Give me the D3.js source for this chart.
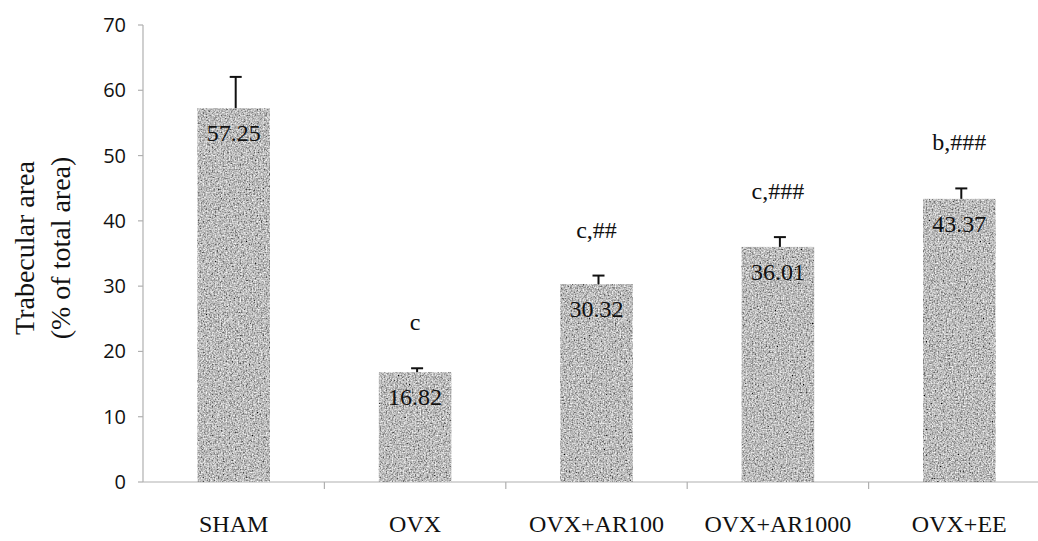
<!DOCTYPE html>
<html>
<head>
<meta charset="utf-8">
<script src="https://cdn.jsdelivr.net/npm/d3@7"></script>
<style>
  html, body { margin: 0; padding: 0; background: #fff; }
  svg { display: block; }
  .serif { font-family: "Liberation Serif", "Times New Roman", serif; fill: #111; }
  .ytick { font-family: "Open Sans", "Noto Sans", sans-serif; font-size: 20px; fill: #111; }
</style>
</head>
<body>
<svg id="chart" width="1038" height="541"></svg>
<script>
// data
const groups = ['SHAM', 'OVX', 'OVX+AR100', 'OVX+AR1000', 'OVX+EE'];
const means = [57.25, 16.82, 30.32, 36.01, 43.37];
const errors = [4.8, 0.6, 1.3, 1.5, 1.6];
const marks = ['', 'c', 'c,##', 'c,###', 'b,###'];
const yTicks = [0, 10, 20, 30, 40, 50, 60, 70];

const svg = d3.select('#chart');
const W = 1038, H = 541;

const x = d3.scaleBand().domain(groups).range([143, 1050]).paddingInner(0.6).paddingOuter(0.3);
const y = d3.scaleLinear().domain([0, 70]).range([482, 25]);

// grainy print texture for the bars
const defs = svg.append('defs');
const f = defs.append('filter').attr('id', 'grain')
  .attr('x', 0).attr('y', 0).attr('width', '100%').attr('height', '100%');
f.append('feTurbulence').attr('type', 'fractalNoise').attr('baseFrequency', 0.65)
  .attr('numOctaves', 2).attr('seed', 7).attr('result', 'noise');
f.append('feColorMatrix').attr('in', 'noise').attr('type', 'saturate').attr('values', 0).attr('result', 'gray');
const ct = f.append('feComponentTransfer').attr('in', 'gray').attr('result', 'tone');
['R', 'G', 'B'].forEach(c => ct.append('feFunc' + c).attr('type', 'linear').attr('slope', 1.8).attr('intercept', -0.4));
ct.append('feFuncA').attr('type', 'linear').attr('slope', 0).attr('intercept', 1);
f.append('feComposite').attr('in', 'tone').attr('in2', 'SourceGraphic').attr('operator', 'in');

// y axis
const yAxis = svg.append('g');
yAxis.append('line')
  .attr('x1', 143).attr('x2', 143).attr('y1', y(70)).attr('y2', y(0))
  .attr('stroke', '#b0b0b0').attr('stroke-width', 1.2);
yAxis.selectAll('line.tick').data(yTicks).join('line')
  .attr('class', 'tick')
  .attr('x1', 138).attr('x2', 143)
  .attr('y1', d => y(d)).attr('y2', d => y(d))
  .attr('stroke', '#b0b0b0').attr('stroke-width', 1.2);
yAxis.selectAll('text').data(yTicks).join('text')
  .attr('class', 'ytick')
  .attr('x', 126).attr('y', d => y(d)).attr('dy', '0.35em')
  .attr('text-anchor', 'end')
  .text(d => d);

// x axis, ticks sit between the groups
const step = x.step();
const gap = step - x.bandwidth();
svg.append('line')
  .attr('x1', 143).attr('x2', W).attr('y1', y(0)).attr('y2', y(0))
  .attr('stroke', '#b0b0b0').attr('stroke-width', 1.2);
svg.selectAll('line.xtick').data(groups.slice(1)).join('line')
  .attr('class', 'xtick')
  .attr('x1', d => x(d) - gap / 2).attr('x2', d => x(d) - gap / 2)
  .attr('y1', y(0)).attr('y2', y(0) + 7)
  .attr('stroke', '#b0b0b0').attr('stroke-width', 1.2);

// bars
svg.selectAll('rect.bar').data(groups).join('rect')
  .attr('class', 'bar')
  .attr('x', d => x(d))
  .attr('y', (d, i) => y(means[i]))
  .attr('width', x.bandwidth())
  .attr('height', (d, i) => y(0) - y(means[i]))
  .attr('fill', '#808080')
  .attr('filter', 'url(#grain)');

// error bars (upper only)
const eb = svg.append('g').attr('stroke', '#111').attr('stroke-width', 2);
groups.forEach((g, i) => {
  const cx = x(g) + x.bandwidth() / 2 + 2;
  eb.append('line').attr('x1', cx).attr('x2', cx)
    .attr('y1', y(means[i])).attr('y2', y(means[i] + errors[i]));
  eb.append('line').attr('x1', cx - 6).attr('x2', cx + 6)
    .attr('y1', y(means[i] + errors[i])).attr('y2', y(means[i] + errors[i]));
});

// value labels inside bars
svg.selectAll('text.val').data(groups).join('text')
  .attr('class', 'serif val')
  .attr('x', d => x(d) + x.bandwidth() / 2)
  .attr('y', (d, i) => y(means[i]) + 33)
  .attr('text-anchor', 'middle')
  .attr('font-size', 24)
  .text((d, i) => means[i].toFixed(2));

// significance marks
svg.selectAll('text.mark').data(groups).join('text')
  .attr('class', 'serif mark')
  .attr('x', d => x(d) + x.bandwidth() / 2)
  .attr('y', (d, i) => y(means[i] + errors[i]) - 38)
  .attr('text-anchor', 'middle')
  .attr('font-size', 24)
  .text((d, i) => marks[i]);

// category labels
svg.selectAll('text.cat').data(groups).join('text')
  .attr('class', 'serif cat')
  .attr('x', d => x(d) + x.bandwidth() / 2)
  .attr('y', 532)
  .attr('text-anchor', 'middle')
  .attr('font-size', 24)
  .text(d => d);

// y title
const yt = svg.append('text').attr('class', 'serif')
  .attr('transform', 'translate(0,248) rotate(-90)')
  .attr('text-anchor', 'middle')
  .attr('font-size', 28);
yt.append('tspan').attr('x', 0).attr('y', 34).text('Trabecular area');
yt.append('tspan').attr('x', 0).attr('y', 70).text('(% of total area)');
</script>
</body>
</html>
